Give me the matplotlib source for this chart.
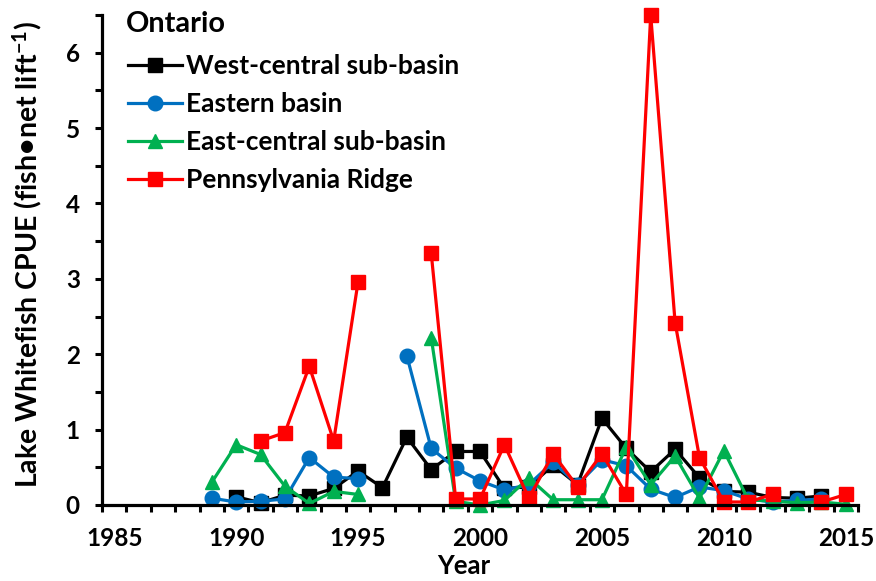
import numpy as np
import matplotlib
matplotlib.use("Agg")
import matplotlib.pyplot as plt
from matplotlib import font_manager
from matplotlib.ticker import MultipleLocator, FixedLocator


def bold_family(candidates):
    """Return the first family that ships a real bold face."""
    for fam in candidates:
        for entry in font_manager.fontManager.ttflist:
            w = entry.weight
            if isinstance(w, str):
                w = font_manager.weight_dict.get(w, 400)
            if entry.name == fam and w >= 600 and entry.style == "normal":
                return fam
    return "DejaVu Sans"


MAIN = bold_family(["Lato", "Open Sans", "Noto Sans", "Roboto", "Inter",
                    "Liberation Sans"])
FONT = [MAIN, "DejaVu Sans"]
plt.rcParams["font.family"] = FONT
plt.rcParams["font.weight"] = "bold"
plt.rcParams["mathtext.fontset"] = "custom"
plt.rcParams["mathtext.rm"] = MAIN + ":bold"
plt.rcParams["mathtext.default"] = "regular"

nan = np.nan
years = list(range(1989, 2016))

west_central = [nan, 0.11, 0.03, 0.13, 0.12, 0.22, 0.45, 0.23, 0.90, 0.47,
                0.71, 0.71, 0.22, 0.24, 0.53, 0.27, 1.15, 0.75, 0.44, 0.74,
                0.36, 0.18, 0.17, 0.10, 0.09, 0.12, nan]
eastern = [0.09, 0.04, 0.05, 0.08, 0.63, 0.37, 0.35, nan, 1.98, 0.75,
           0.49, 0.32, 0.20, 0.27, 0.57, 0.27, 0.60, 0.52, 0.21, 0.10,
           0.24, 0.19, 0.08, 0.04, 0.06, 0.08, nan]
east_central = [0.30, 0.80, 0.67, 0.25, 0.02, 0.18, 0.14, nan, nan, 2.22,
                0.05, 0.00, 0.06, 0.36, 0.07, 0.07, 0.07, 0.77, 0.27, 0.65,
                0.09, 0.72, 0.07, 0.05, 0.03, 0.04, 0.01]
penn_ridge = [nan, nan, 0.85, 0.96, 1.84, 0.85, 2.96, nan, nan, 3.34,
              0.08, 0.08, 0.80, 0.09, 0.68, 0.24, 0.68, 0.14, 6.50, 2.42,
              0.63, 0.04, 0.04, 0.14, nan, 0.04, 0.14]

series = [
    ("West-central sub-basin", west_central, "#000000", "s", 10.5),
    ("Eastern basin", eastern, "#0070C0", "o", 10.5),
    ("East-central sub-basin", east_central, "#00B050", "^", 10.5),
    ("Pennsylvania Ridge", penn_ridge, "#FF0000", "s", 10.5),
]

W, H = 876, 581
fig = plt.figure(figsize=(W / 100, H / 100), dpi=100)
ax = fig.add_axes([102 / W, 76 / H, 756 / W, 490 / H])

for label, vals, color, marker, ms in series:
    ax.plot(years, vals, color=color, marker=marker, markersize=ms,
            linewidth=2.3, label=label, clip_on=False)

ax.set_xlim(1984.5, 2015.5)
ax.set_ylim(0, 6.5)

for side in ("top", "right"):
    ax.spines[side].set_visible(False)
for side in ("left", "bottom"):
    ax.spines[side].set_linewidth(2.3)

# x axis: labels every five years, tick marks between years
ax.xaxis.set_major_locator(FixedLocator(list(range(1985, 2016, 5))))
ax.xaxis.set_minor_locator(FixedLocator([y + 0.5 for y in range(1984, 2016)]))
ax.tick_params(axis="x", which="major", length=0, pad=16, labelsize=17.5)
ax.tick_params(axis="x", which="minor", length=5, width=2.2, direction="out")

# y axis
ax.yaxis.set_major_locator(MultipleLocator(1))
ax.yaxis.set_minor_locator(MultipleLocator(0.5))
ax.tick_params(axis="y", which="major", length=5, width=2.2, pad=11, labelsize=17.5)
ax.tick_params(axis="y", which="minor", length=5, width=2.2)

for lbl in ax.get_xticklabels() + ax.get_yticklabels():
    lbl.set_fontweight("bold")

fig.text(464 / W, 1 - 566 / H, "Year", fontsize=18.5, fontweight="bold",
         ha="center", va="center")
fig.text(27 / W, 1 - 255 / H, "Lake Whitefish CPUE (fish\u2022net lift$^{-1}$)",
         fontsize=20.5, fontweight="bold", rotation=90, ha="center", va="center")

fig.text(126 / W, 1 - 24 / H, "Ontario", fontsize=20.8, fontweight="bold",
         ha="left", va="center")

leg = ax.legend(loc="upper left", bbox_to_anchor=(128 / W, 1 - 54 / H),
                bbox_transform=fig.transFigure, frameon=False,
                prop={"family": FONT, "size": 19, "weight": "bold"},
                handlelength=2.05, handletextpad=0.15, labelspacing=0.53,
                borderpad=0, borderaxespad=0)

fig.savefig("out.png", dpi=100)
